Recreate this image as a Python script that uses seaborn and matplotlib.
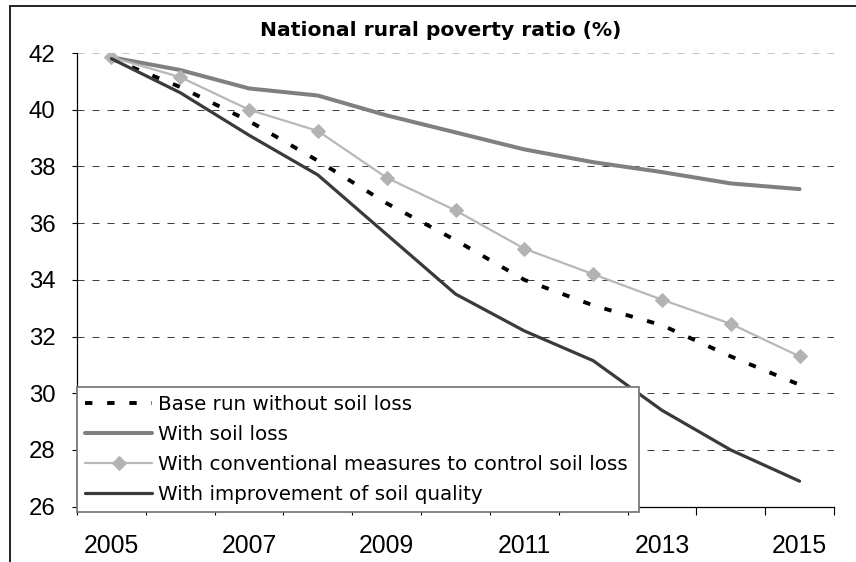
import matplotlib
matplotlib.use("Agg")
import matplotlib.pyplot as plt
import seaborn as sns
import pandas as pd
import numpy as np
from matplotlib.lines import Line2D

# ---------------- data ----------------
years = list(range(2005, 2016))
base_run = [41.8, 40.8, 39.6, 38.2, 36.7, 35.4, 34.0, 33.1, 32.4, 31.3, 30.3]
soil_loss = [41.85, 41.4, 40.75, 40.5, 39.8, 39.2, 38.6, 38.15, 37.8, 37.4, 37.2]
conventional = [41.85, 41.15, 40.0, 39.25, 37.6, 36.45, 35.1, 34.2, 33.3, 32.45, 31.3]
improvement = [41.8, 40.6, 39.1, 37.7, 35.6, 33.5, 32.2, 31.15, 29.4, 28.0, 26.9]

series_names = [
    "Base run without soil loss",
    "With soil loss",
    "With conventional measures to control soil loss",
    "With improvement of soil quality",
]
title = "National rural poverty ratio (%)"
y_ticks = [26, 28, 30, 32, 34, 36, 38, 40, 42]
x_label_years = [2005, 2007, 2009, 2011, 2013, 2015]

df = pd.DataFrame({
    "year": years * 4,
    "value": base_run + soil_loss + conventional + improvement,
    "series": sum([[n] * len(years) for n in series_names], []),
})

# ---------------- style ----------------
sns.set_theme(style="white")
plt.rcParams['font.family'] = ['Liberation Sans', 'DejaVu Sans']
wide_font = ['DejaVu Sans']

W, H = 856, 562
fig = plt.figure(figsize=(W / 100, H / 100), dpi=100)
ax_left, ax_right, ax_top, ax_bottom = 77, 834, 53, 506.7
ax = fig.add_axes([ax_left / W, 1 - ax_bottom / H,
                   (ax_right - ax_left) / W, (ax_bottom - ax_top) / H])

styles = {
    series_names[0]: dict(color="black", linewidth=2.8, linestyle=(0, (1.9, 3.8))),
    series_names[1]: dict(color="#808080", linewidth=2.9),
    series_names[2]: dict(color="#b8b8b8", linewidth=1.6, marker="D",
                          markersize=7.6, markerfacecolor="#b3b3b3",
                          markeredgecolor="#b3b3b3"),
    series_names[3]: dict(color="#3a3a3a", linewidth=2.3),
}

for name in series_names:
    sub = df[df["series"] == name]
    sns.lineplot(data=sub, x="year", y="value", ax=ax, label=name,
                 legend=False, zorder=3, **styles[name])

# ---------------- axes ----------------
ax.set_xlim(2004.5, 2015.5)
ax.set_ylim(26, 42)
ax.set_xlabel("")
ax.set_ylabel("")

ax.set_yticks(y_ticks)
ax.set_yticklabels([str(v) for v in y_ticks])
ax.set_xticks(np.arange(2004.5, 2016.0, 1.0))
ax.set_xticklabels([])
ax.set_xticks(x_label_years, minor=True)
ax.set_xticklabels([str(y) for y in x_label_years], minor=True)

ax.tick_params(axis="y", which="major", direction="out", length=3.6, width=0.8,
               color="black", pad=12, labelsize=17.3, labelcolor="black", left=True)
ax.tick_params(axis="x", which="major", direction="out", length=6, width=0.8,
               color="black", bottom=True)
ax.tick_params(axis="x", which="minor", length=0, pad=20, labelsize=17.8,
               labelcolor="black", bottom=True)

for s in ["top", "right"]:
    ax.spines[s].set_visible(False)
for s in ["left", "bottom"]:
    ax.spines[s].set_color("black")
    ax.spines[s].set_linewidth(0.9)

ax.yaxis.grid(True, linestyle=(0, (7, 8)), linewidth=0.72, color="#404040")
ax.xaxis.grid(False)
ax.set_axisbelow(True)
glines = ax.get_ygridlines()
glines[0].set_visible(False)
glines[-1].set_color("#c4c4c4")

# ---------------- legend ----------------
handles, labels = ax.get_legend_handles_labels()
leg_top = (ax_bottom - 387.3) / (ax_bottom - ax_top)
leg_w = (639 - ax_left) / (ax_right - ax_left)
leg = ax.legend(handles, labels, loc="upper left", mode="expand",
                bbox_to_anchor=(0, leg_top - 0.3, leg_w, 0.3),
                borderaxespad=0, frameon=True, fancybox=False, framealpha=1,
                edgecolor="#7a7a7a", prop={'family': wide_font, 'size': 14.3},
                handlelength=3.4, handletextpad=0.3, borderpad=0.4,
                labelspacing=0.555, numpoints=1)
leg.get_frame().set_linewidth(1.3)
leg.set_zorder(5)
for t in leg.get_texts():
    t.set_color("black")

# ---------------- title & border ----------------
fig.text(441 / W, 1 - 35.7 / H, title, ha="center", va="baseline",
         fontsize=14.6, fontweight="bold", color="black", family=wide_font)

fig.add_artist(Line2D([10 / W, 10 / W], [0, 1 - 6 / H], transform=fig.transFigure,
                      color="#222222", linewidth=1.4))
fig.add_artist(Line2D([10 / W, 1], [1 - 6 / H, 1 - 6 / H], transform=fig.transFigure,
                      color="#222222", linewidth=1.4))

fig.savefig("out.png", dpi=100, facecolor="white")
